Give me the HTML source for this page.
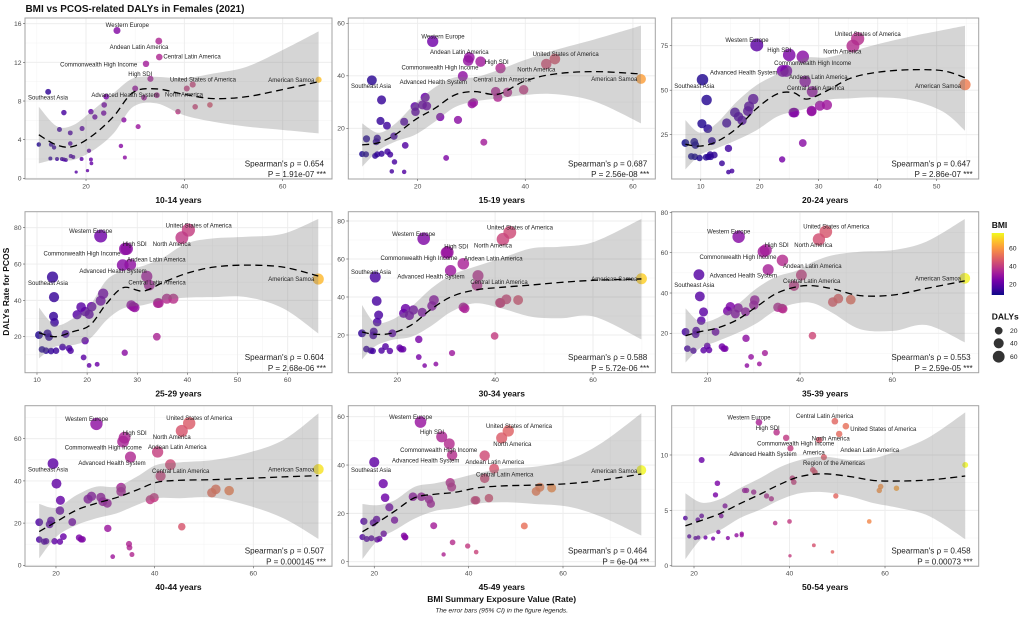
<!DOCTYPE html>
<html lang="en">
<head>
<meta charset="utf-8">
<title>BMI vs PCOS-related DALYs in Females (2021)</title>
<style>
html,body{margin:0;padding:0;background:#fff;}
svg{display:block;font-family:"Liberation Sans",Arial,sans-serif;filter:blur(0.3px);}
</style>
</head>
<body>
<svg id="chart" xmlns="http://www.w3.org/2000/svg" width="1022" height="617" viewBox="0 0 1022 617">
  <rect x="0" y="0" width="1022" height="617" fill="#ffffff"/>
  <text x="25.5" y="12" font-size="9.95" font-weight="bold" fill="#111">BMI vs PCOS-related DALYs in Females (2021)</text>
  <text transform="translate(9,291.7) rotate(-90)" text-anchor="middle" font-size="8.5" font-weight="bold" fill="#111">DALYs Rate for PCOS</text>
  <text x="501.7" y="602" text-anchor="middle" font-size="8.5" font-weight="bold" fill="#111">BMI Summary Exposure Value (Rate)</text>
  <text x="501.7" y="612.5" text-anchor="middle" font-size="6.6" font-style="italic" fill="#222">The error bars (95% CI) in the figure legends.</text>
  <g id="panels"></g>
  <g id="legend">
    <text x="991.7" y="228" font-size="8.5" font-weight="bold" fill="#111">BMI</text>
    <text x="991.7" y="319.7" font-size="8.5" font-weight="bold" fill="#111">DALYs</text>
  </g>
</svg>
<script>
// ---------- Data (BMI = x, DALYs rate = y) ----------
const ageGroups = ["10-14 years","15-19 years","20-24 years","25-29 years","30-34 years","35-39 years","40-44 years","45-49 years","50-54 years"];
const rhoValues = ["0.654","0.687","0.647","0.604","0.588","0.553","0.507","0.464","0.458"];
const pValues = ["1.91e-07","2.56e-08","2.86e-07","2.68e-06","5.72e-06","2.59e-05","0.000145","6e-04","0.00073"];

const bmi_10_14 = [26.3,34.8,34.9,32.2,33.1,41.7,40.5,67.3,30,31.8,34.4,24.1,12.3,23.7,15.5,21,21.8,23.6,27.7,30.6,38.7,42.2,45.2,14.6,19.2,16.8,10.4,12.9,13.5,16.8,20.6,27.1,16.9,17.4,27.9,12.75,14.1,15.1,15.5,15.9,19.1,21,21.1,18,20.3];
const daly_10_14 = [15.3,14.2,12.55,11.85,10.3,9.7,9.3,10.2,9.3,8.35,8.6,8.45,8.95,7.6,6.8,6.9,6.35,6.75,6.05,5.35,6.9,7.4,7.6,5.05,5.15,4.7,3.5,3.5,3.2,3.6,2.85,3.35,2.3,2.2,2.15,2.05,2,2,1.95,1.9,2,1.95,1.55,0.65,0.8];
const fitX_10_14 = [10.4,14,17.4,21.5,25.6,29.6,34.4,39.8,45.9,52.7,60.1,67.3];
const fitY_10_14 = [4.5,3.45,3.3,4.5,6.4,8.9,9.25,8.7,8.25,8.45,9.2,10];
const fitHi_10_14 = [7.4,5.4,5.5,7.1,8.8,10.35,10.5,10.35,10.85,11.55,13.3,15.2];
const fitLo_10_14 = [1.55,1.95,1.9,2.9,4.65,7.4,7.75,6.55,5.85,5.35,5,4.65];

const bmi_15_19 = [22.8,29.6,29.4,31.7,35.4,45.5,43.9,61.5,11.5,28.4,34.5,34.9,36.7,39.7,13.3,21.4,19.5,20.9,21.7,19.6,30.4,30.1,24.2,27.5,13.1,14.3,17.5,15.6,10.5,12.5,12.3,17.7,32.3,9.7,10.4,12.1,12.5,13.3,14.4,14.9,15.7,25.3,15.2,17.5];
const daly_15_19 = [53.1,47,45.8,45.4,42.9,46.4,44.5,38.8,38.3,39.9,34,31.8,33.7,34.7,30.8,31.8,28.3,28.9,28.5,26.3,29.8,29.3,24.3,23.2,22.8,21,22.5,17,16,16.2,14.9,13.5,14.7,10.2,10.1,9.5,10.1,10.3,11.1,10,7.2,8.7,3.6,3.4];
const fitX_15_19 = [9.7,12.7,15.8,19.5,23.2,26.9,30.6,35,39.9,45.5,52.9,61.5];
const fitY_15_19 = [13.7,14.5,17.5,23.2,27.6,32.7,34,33,38,40.7,41.6,40.7];
const fitHi_15_19 = [21.9,18.3,21.7,29.3,35.6,39.4,39.4,42.2,46,49.8,53.9,59.1];
const fitLo_15_19 = [5.4,11.5,14.9,17.5,22.5,28,30.2,31.4,32.7,33,30.2,21.9];

const bmi_20_24 = [19.5,25,27.3,36.6,35.8,23.9,24.5,10.3,27.7,28.9,54.8,11,18.9,18.2,18,15.8,16.4,17,14.4,10.2,11.2,25.7,25.9,28.8,28.8,30.2,31.4,7.4,8.9,9.1,11.9,14.7,27.3,8.4,9,9.8,10.9,11.3,11.6,11.7,12.3,13.6,23.8,14.7,15.3];
const daly_20_24 = [75.4,69.8,68.8,78.9,74.8,60.8,60.8,55.9,55,49.2,53.1,44.5,45,40.9,38.3,37.5,35.1,33,31.6,31.2,28.4,37.4,37.4,38.5,38.1,41.3,41.7,20.3,20.9,19.2,21.4,17.3,20.3,12.8,12.6,11.9,12.3,12.6,13.8,12.6,13.6,8.9,11.1,4,4.6];
const fitX_20_24 = [7.4,9.9,12.7,16.1,19.5,22.9,25.7,28,31.4,35.3,39.8,45.5,51.1,54.8];
const fitY_20_24 = [19.6,18.6,21.1,28.6,39.8,47.8,48.6,45,49.7,56.6,60,61.5,60.9,57];
const fitHi_20_24 = [33.2,26.1,31.4,43.5,52.9,59.1,65.1,68.4,68.4,71.6,75.7,80.1,83.8,86.2];
const fitLo_20_24 = [5.5,13.6,17.3,22,27.6,35.1,37.9,39.8,44.5,45.4,46,44.5,37.9,27.2];

const bmi_25_29 = [22.7,27.6,27.9,40.2,38.9,27.1,28.6,31.9,32.4,13.1,66.1,13.4,23.2,22.7,20.9,18.8,19.6,20.4,18,13.3,13.5,28.8,29.2,29.5,34.1,34.3,35.9,37.2,10.4,12.1,12.4,15.7,19.6,33.9,11,11.8,12.8,13.8,15.1,16.4,16.7,27.5,19.3,20.4,22];
const daly_25_29 = [75.4,68.3,68.4,78.7,74.5,59.4,59.6,53.2,48.4,52.8,51.7,41.8,43.7,39.8,36.5,36.3,33.8,32.3,32.1,31.2,27.9,37.4,36.5,36.1,38.5,38.5,40.9,40.9,20.9,21.8,19.8,21.5,17.8,20,13,12.3,12.1,12.3,14.3,13.6,12.3,11.2,8.6,4.2,4.8];
const fitX_25_29 = [10.4,13.6,17.2,20.6,23.9,27.2,31.2,35.2,39.9,45.2,51.8,59.1,66.1];
const fitY_25_29 = [22.2,20,22.8,26.4,38.3,47,45.1,49.9,54.9,58.3,59.4,58.3,53.4];
const fitHi_25_29 = [36,26.4,30,37.5,51.2,56.2,59,63.6,71.4,74.1,75,76.7,84.8];
const fitLo_25_29 = [8.1,14.5,15.4,19.1,29.2,35.6,37.4,40.2,41.5,41.8,41.8,35.6,21.8];

const bmi_30_34 = [25.4,30.3,30.1,43,41.6,33.5,30.9,36.5,36.3,15.5,69.9,15.8,27.5,27.1,21.7,23.3,21.3,22.5,25.1,16.2,15.9,33.5,33.8,41,41.1,42.3,44.7,12.8,15.2,15.1,19,24.4,39.9,13.7,14.6,15,16.8,17.6,18.5,20.5,20.8,21.2,31.2,24.4,25.6,27.9];
const daly_30_34 = [70.7,63.5,63.3,74,70.4,57.5,53.9,51.2,46.1,50.5,49.6,37.9,38.4,35.3,33.9,33.2,31.4,30.2,31.9,30.5,26.8,34.6,34,37,36.8,38.8,38.4,20.9,21.8,19.8,20.9,17.7,19.5,12.6,11.8,11.6,11.8,13.9,11.6,13.3,12.5,12.5,10.5,8.4,3.9,4.7];
const fitX_30_34 = [12.8,15.4,18.8,22.9,27,31.1,35.9,41.3,47.4,53.5,60.3,69.9];
const fitY_30_34 = [21.6,20.4,20.9,25.3,33.7,40.2,43.7,45.1,46.3,47.7,48.8,49.5];
const fitHi_30_34 = [35.8,26.7,27.9,34.9,44.6,51.6,56,60.4,65.6,66.5,69.1,81.1];
const fitLo_30_34 = [7.2,13.9,17.4,19.1,24.9,32.3,36.7,34,29.6,28.8,29.6,17.7];

const bmi_35_39 = [26.7,32.1,32.6,45.6,44.1,36.2,33.1,40.3,38.7,18.1,75.7,18.3,30.2,30,24.9,26.6,24.3,26,28.2,19.1,18.6,35.2,36.1,36.3,47.1,48.3,51,15.2,17.5,17.4,21.7,28.3,42.7,15.6,16.9,19.1,19.9,20.3,23.1,23.5,23.8,32.4,29.4,28.5,31.2];
const daly_35_39 = [67.9,60.5,61.3,70.4,66.6,56.2,51.6,48.9,43.6,49.1,47.3,38.3,36.5,34,33.2,32.6,31.1,29.6,30.7,30.6,26.3,32.9,32.4,32.1,35.5,37.2,36.7,20.7,21.3,19.5,20.7,17.5,18.8,12.4,11.4,11.6,13.7,11.7,13.4,12.4,12.4,10.2,8.3,4,4.8];
const fitX_35_39 = [15.2,18.3,21.9,26.3,30.6,34.9,39.3,42.9,47.2,53,60.2,67.4,75.7];
const fitY_35_39 = [18.8,20.8,22.5,26.6,33.2,39.8,43.1,43.6,42,38.7,39,42.3,46];
const fitHi_35_39 = [32.4,25.8,27.4,34,42.3,48.1,51.1,55.5,58.8,60.5,61.3,65.5,76.7];
const fitLo_35_39 = [5.5,12.6,15.9,20,25,31.6,34.9,34.9,29.9,22.1,21.2,24.1,15.5];

const bmi_40_44 = [28.2,33.9,33.6,47,45.5,35.1,40.6,43.2,41.2,19.4,73.2,20.1,20.9,20.8,27.2,26.5,29.1,29.5,30.4,33.2,33.2,39.1,39.9,51.6,52.4,55.1,16.6,19,18.7,23.3,30.5,45.5,16.6,17.6,18,19.7,20.8,21.5,24.7,25.1,25.4,34.8,34.9,35.4,31.5];
const daly_40_44 = [67,60.5,58.6,67.3,63.7,51.3,53.7,47.7,42.3,48.2,45.5,38.7,30.8,25.9,32.7,31.4,32.2,30.2,29.4,36.8,34.9,31.1,32.1,34.4,36,35.4,20.4,21.2,19.4,20.5,17.5,18.3,12.2,11.2,11.4,11.4,11.2,13.6,13.1,12.3,12.3,10.1,8.4,5.1,4.1];
const fitX_40_44 = [16.6,20.1,24.2,28.2,32.3,36.4,40.4,45.1,51.9,58.6,66.1,73.2];
const fitY_40_44 = [16,20.7,26.2,29.4,32.1,35.7,39.3,40.3,40.6,41.2,41.9,42.5];
const fitHi_40_44 = [29.1,27.3,33.3,37.3,37.3,42,47.6,48.8,49.9,53.1,59.4,72];
const fitLo_40_44 = [3.3,13.6,19.1,22.3,24.6,28.6,31.8,31.8,32.1,28.6,22.3,12.5];

const bmi_45_49 = [29.8,34.3,35.9,36.5,48.4,47,43.4,45.4,43.4,20,76.6,21.9,22.3,36.1,36.4,28.2,30,31.6,32,23.2,24.3,20.5,19.8,17.8,41.3,41.6,44.3,54.3,55.1,57.6,32.6,51.8,17.5,18.4,19.4,20.6,21.1,22,26.3,26.5,26.6,36.6,39.8,41.6,34.7];
const daly_45_49 = [57.8,51.7,48.8,44.1,54.1,51.2,43.9,38.5,34.5,41.2,37.9,32.3,26.5,32.7,30.9,26.9,26.9,25.8,24,22.5,17.2,17.5,16.1,16.7,25.4,25.4,26.3,29.1,30.8,30.5,14.9,14.8,10.2,9.4,9.7,9.1,9.5,11.6,10.8,10.1,10.1,8,6.5,4,3];
const fitX_45_49 = [17.5,20.8,24.4,28.6,32.8,37.1,42,47.7,54,61.1,68.1,76.6];
const fitY_45_49 = [12.4,16.3,21,26.5,27.9,28.7,30.6,31.4,31.7,32.3,33.7,36.3];
const fitHi_45_49 = [23.9,23.4,25.5,31,32.4,34.2,36.6,38.6,39.3,42.1,49,61.4];
const fitLo_45_49 = [1.1,9,13.1,17.9,21,22.1,24.1,24.6,23.9,22.8,18.6,10.8];

const bmi_50_54 = [33.6,37.3,39.3,40.2,49.5,51.8,50.4,46.2,47.2,44.9,45.3,21.6,76.8,24.9,24.5,40.6,40.9,30.6,31,32.5,35.2,36.2,49.7,58.8,59.1,62.4,26.5,25.7,18.2,21.6,20.8,37,40,56.7,25.1,19,20.3,20.9,22.4,24,27.1,28.9,30,30,45.1,49,40.1];
const daly_50_54 = [12.95,12.05,11.55,10.6,13.05,12.6,11.9,11.35,9.8,8.65,8.45,9.55,9.1,7.45,6.4,7.9,7.55,6.8,6.8,6.65,6.3,6.05,6.3,6.8,7.15,7,5.4,4.5,4.3,4.5,4.15,3.85,4,4,3.05,2.65,2.5,2.55,2.55,2.45,2.5,2.75,2.75,2.9,1.85,1.25,0.9];
const fitX_50_54 = [18.2,21.6,25.4,29.6,33.8,38,42.2,47.1,52.7,57.6,63.1,69.4,76.8];
const fitY_50_54 = [3.6,4.1,4.7,5.6,6.45,7.35,8.05,8.3,8.05,7.7,7.65,7.75,8.1];
const fitHi_50_54 = [6.55,5.7,6,7,7.9,8.9,9.55,9.85,9.55,9.7,10.45,11.65,13.85];
const fitLo_50_54 = [0.6,2.45,3.2,4.3,5.05,5.95,6.55,6.65,6.25,5.65,5.2,4.45,2.4];

const xTicks = [[20,40,60],[20,40,60],[10,20,30,40,50],[10,20,30,40,50,60],[20,40,60],[20,40,60],[20,40,60],[20,40,60],[20,40,60]];
const yTicks = [[0,4,8,12,16],[20,40,60],[25,50,75],[20,40,60,80],[20,40,60,80],[20,40,60,80],[0,20,40,60],[0,20,40,60],[0,5,10]];
const bmiLegendTicks = [20,40,60];
const dalyLegendValues = [20,40,60];

const seriesBmi = [bmi_10_14,bmi_15_19,bmi_20_24,bmi_25_29,bmi_30_34,bmi_35_39,bmi_40_44,bmi_45_49,bmi_50_54];
const seriesDaly = [daly_10_14,daly_15_19,daly_20_24,daly_25_29,daly_30_34,daly_35_39,daly_40_44,daly_45_49,daly_50_54];
const seriesFitX = [fitX_10_14,fitX_15_19,fitX_20_24,fitX_25_29,fitX_30_34,fitX_35_39,fitX_40_44,fitX_45_49,fitX_50_54];
const seriesFitY = [fitY_10_14,fitY_15_19,fitY_20_24,fitY_25_29,fitY_30_34,fitY_35_39,fitY_40_44,fitY_45_49,fitY_50_54];
const seriesFitHi = [fitHi_10_14,fitHi_15_19,fitHi_20_24,fitHi_25_29,fitHi_30_34,fitHi_35_39,fitHi_40_44,fitHi_45_49,fitHi_50_54];
const seriesFitLo = [fitLo_10_14,fitLo_15_19,fitLo_20_24,fitLo_25_29,fitLo_30_34,fitLo_35_39,fitLo_40_44,fitLo_45_49,fitLo_50_54];

// ---------- Layout (page geometry, axis limits, repelled label placement) ----------
const panelLeft = [25,348.3,671.7];
const panelWidth = 307;
const rowTop = [18,211.7,405.7];
const rowBottom = [179,372.7,566.3];
const stripBaseline = [203,396.3,590];
const xLimits = [[7.59,70.03],[7.12,64.16],[5.08,57.12],[7.61,68.84],[10,72.73],[12.2,78.72],[13.72,75.95],[14.5,79.56],[15.33,79.62]];
const yLimits = [[-0.07,16.59],[0.69,62.02],[0.11,90.56],[0.19,88.8],[0.16,84.89],[0.45,80.35],[-0.47,75.64],[-1.9,64.55],[-0.05,14.45]];
const labelLayout = [
 [["Western Europe",127.3,24.7],["Andean Latin America",139,46.7],["Central Latin America",192,56.3],["Commonwealth High Income",98.7,64.3],["High SDI",140.3,74],["United States of America",203,79.3],["American Samoa",291.3,80],["Advanced Health System",125,94.7],["North America",184,94.3],["Southeast Asia",48,97.3]],
 [["Western Europe",443,36.3],["Andean Latin America",459.3,52],["High SDI",496.7,61.7],["United States of America",565.7,53.7],["Commonwealth High Income",440,67.3],["North America",536.3,69.3],["Advanced Health System",433.3,82],["Central Latin America",502,79.3],["American Samoa",614.3,79],["Southeast Asia",371,86]],
 [["Western Europe",747,40],["High SDI",779.3,49.7],["United States of America",867.7,33.7],["North America",842.3,51.3],["Commonwealth High Income",812.7,62.7],["Advanced Health System",743.7,72.3],["Andean Latin America",818.3,77],["Central Latin America",815.7,87.7],["Southeast Asia",694.3,86],["American Samoa",938,85.7]],
 [["United States of America",198.7,225.3],["Western Europe",90.7,230.7],["High SDI",134.7,243.7],["North America",171.7,243.7],["Commonwealth High Income",82,253.3],["Andean Latin America",156.3,259.3],["Advanced Health System",113,270.7],["Southeast Asia",48,282.7],["Central Latin America",157,282.3],["American Samoa",291.3,279]],
 [["United States of America",520,227.3],["Western Europe",413.7,233.7],["High SDI",456.3,246.3],["North America",493,245.3],["Commonwealth High Income",419,257.7],["Andean Latin America",493.3,258.3],["Southeast Asia",371,272],["Advanced Health System",431,276.3],["Central Latin America",499,281.7],["American Samoa",614.3,278.7]],
 [["United States of America",836.3,226.3],["Western Europe",728.7,231.3],["High SDI",776.7,244.7],["North America",813.3,245],["Commonwealth High Income",738,257],["Andean Latin America",812.3,265.7],["Advanced Health System",743.3,275.3],["Central Latin America",811.7,280.7],["Southeast Asia",694.3,285],["American Samoa",938,278.3]],
 [["United States of America",199.3,418],["Western Europe",86.7,418.7],["High SDI",134.7,432.7],["North America",171.7,436.7],["Commonwealth High Income",103.3,447.3],["Andean Latin America",177.3,446.7],["Advanced Health System",112,462.7],["Southeast Asia",48,469.3],["Central Latin America",180.7,470.7],["American Samoa",291.3,469.3]],
 [["Western Europe",410.7,417],["United States of America",519,426],["High SDI",432,431.7],["North America",512.3,444],["Commonwealth High Income",438.7,449.7],["Advanced Health System",425.7,460.3],["Andean Latin America",494.7,461.7],["Southeast Asia",371,470],["Central Latin America",504.7,474.3],["American Samoa",614.3,471]],
 [["Central Latin America",824.7,416],["Western Europe",749,417.3],["High SDI",767.7,427.7],["United States of America",883.3,428.7],["North America",830.7,438.3],["Commonwealth High Income",795.7,443.3],["Andean Latin America",869.7,449.7],["Advanced Health System",763,454],["America",813.7,452.3],["Region of the Americas",834,463]]
];

const NS = "http://www.w3.org/2000/svg";
const plasma = ["#0d0887","#46039f","#7201a8","#9c179e","#bd3786","#d8576b","#ed7953","#fb9f3a","#fdca26","#f0f921"];
const bmiMin = 7.7, bmiMax = 77;

function hexToRgb(h){return [parseInt(h.slice(1,3),16),parseInt(h.slice(3,5),16),parseInt(h.slice(5,7),16)];}
function bmiColor(v){
  const t = Math.max(0,Math.min(1,(v-bmiMin)/(bmiMax-bmiMin)))*(plasma.length-1);
  const i = Math.min(plasma.length-2,Math.floor(t));
  const a = hexToRgb(plasma[i]), b = hexToRgb(plasma[i+1]), f = t-i;
  return "rgb("+a.map((c,k)=>Math.round(c+(b[k]-c)*f)).join(",")+")";
}
function sizeScale(d){return 1.1+0.62*Math.sqrt(Math.max(0,d));}
function splinePath(pts,move){
  let s = (move?"M":"L")+pts[0][0].toFixed(2)+" "+pts[0][1].toFixed(2);
  for(let i=0;i<pts.length-1;i++){
    const p0=pts[Math.max(0,i-1)],p1=pts[i],p2=pts[i+1],p3=pts[Math.min(pts.length-1,i+2)];
    const c1x=p1[0]+(p2[0]-p0[0])/6,c1y=p1[1]+(p2[1]-p0[1])/6,c2x=p2[0]-(p3[0]-p1[0])/6,c2y=p2[1]-(p3[1]-p1[1])/6;
    s+="C"+c1x.toFixed(2)+" "+c1y.toFixed(2)+" "+c2x.toFixed(2)+" "+c2y.toFixed(2)+" "+p2[0].toFixed(2)+" "+p2[1].toFixed(2);
  }
  return s;
}
function mk(tag,attrs,parent){
  const el = document.createElementNS(NS,tag);
  for(const k in attrs){el.setAttribute(k,attrs[k]);}
  parent.appendChild(el);
  return el;
}
const panelsRoot = document.getElementById("panels");

ageGroups.forEach(function(age,p){
  const col = p%3, row = Math.floor(p/3);
  const L = panelLeft[col], R = L+panelWidth, T = rowTop[row], B = rowBottom[row];
  const xs = v => L+(v-xLimits[p][0])/(xLimits[p][1]-xLimits[p][0])*(R-L);
  const ys = v => B-(v-yLimits[p][0])/(yLimits[p][1]-yLimits[p][0])*(B-T);

  const g = mk("g",{},panelsRoot);
  
  

  const bg = mk("rect",{x:L,y:T,width:R-L,height:B-T,fill:"#fff"},g);
  
  

  // grid lines: minor at tick midpoints, major at ticks
  const xt = xTicks[p], yt = yTicks[p];
  const xStep = xt[1]-xt[0], yStep = yt[1]-yt[0];
  for(let v=xt[0]-xStep/2;v<xLimits[p][1];v+=xStep){
    if(v<=xLimits[p][0]) continue;
    const m = mk("line",{x1:xs(v),x2:xs(v),y1:T,y2:B,stroke:"#f3f3f3","stroke-width":0.5},g);
    
    
  }
  for(let v=yt[0]-yStep/2;v<yLimits[p][1];v+=yStep){
    if(v<=yLimits[p][0]) continue;
    const m = mk("line",{x1:L,x2:R,y1:ys(v),y2:ys(v),stroke:"#f3f3f3","stroke-width":0.5},g);
    
    
  }
  xt.forEach(function(v){
    const m = mk("line",{x1:xs(v),x2:xs(v),y1:T,y2:B,stroke:"#ececec","stroke-width":0.9},g);
    
    
  });
  yt.forEach(function(v){
    const m = mk("line",{x1:L,x2:R,y1:ys(v),y2:ys(v),stroke:"#ececec","stroke-width":0.9},g);
    
    
  });

  // points
  const xv = seriesBmi[p], yv = seriesDaly[p];
  xv.forEach(function(x,i){
    const c = mk("circle",{cx:xs(x).toFixed(2),cy:ys(yv[i]).toFixed(2),r:sizeScale(yv[i]).toFixed(2),fill:bmiColor(x),"fill-opacity":0.82},g);
    
    
  });

  // confidence ribbon + fit line
  const fx = seriesFitX[p];
  const hi = fx.map((x,i)=>[xs(x),ys(seriesFitHi[p][i])]);
  const lo = fx.map((x,i)=>[xs(x),ys(seriesFitLo[p][i])]).reverse();
  const rib = mk("path",{d:splinePath(hi,true)+splinePath(lo,false)+"Z",fill:"#777777","fill-opacity":0.31},g);
  
  
  const fit = mk("path",{d:splinePath(fx.map((x,i)=>[xs(x),ys(seriesFitY[p][i])]),true),fill:"none",stroke:"#000","stroke-width":1.3,"stroke-dasharray":"7 4.5"},g);
  
  

  // region labels
  labelLayout[p].forEach(function(lab){
    const t = mk("text",{x:lab[1],y:lab[2]+2.1,"text-anchor":"middle","font-size":6,fill:"#222"},g);
    
    
    t.textContent = lab[0];
  });

  // border
  const border = mk("rect",{x:L,y:T,width:R-L,height:B-T,fill:"none",stroke:"#a3a3a3","stroke-width":1},g);
  
  

  // ticks
  xt.forEach(function(v){
    const tk = mk("line",{x1:xs(v),x2:xs(v),y1:B,y2:B+2,stroke:"#555","stroke-width":0.6},g);
    
    
    const t = mk("text",{x:xs(v),y:B+9.3,"text-anchor":"middle","font-size":6.8,fill:"#4d4d4d"},g);
    
    
    t.textContent = v;
  });
  yt.forEach(function(v){
    const tk = mk("line",{x1:L-2,x2:L,y1:ys(v),y2:ys(v),stroke:"#555","stroke-width":0.6},g);
    
    
    const t = mk("text",{x:L-3.5,y:ys(v)+2.4,"text-anchor":"end","font-size":6.8,fill:"#4d4d4d"},g);
    
    
    t.textContent = v;
  });

  // statistics
  const s1 = mk("text",{x:R-8,y:B-12.6,"text-anchor":"end","font-size":8.1,fill:"#222"},g);
  
  
  s1.textContent = "Spearman's \u03C1 = "+rhoValues[p];
  const s2 = mk("text",{x:R-6,y:B-1.9,"text-anchor":"end","font-size":8.1,fill:"#222"},g);
  
  
  s2.textContent = "P = "+pValues[p]+" ***";

  // strip label below panel
  const st = mk("text",{x:(L+R)/2,y:stripBaseline[row],"text-anchor":"middle","font-size":8.5,"font-weight":"bold",fill:"#111"},g);
  
  
  st.textContent = age;
});

// ---------- Legends ----------
const legendRoot = document.getElementById("legend");
const barX = 991.7, barW = 12.3, barTop = 233, barBottom = 295;
const bmiToY = v => barBottom-(v-bmiMin)/(bmiMax-bmiMin)*(barBottom-barTop);
const defs = mk("defs",{},legendRoot);
const grad = mk("linearGradient",{id:"bmi-gradient",x1:0,y1:1,x2:0,y2:0},defs);
plasma.forEach(function(c,i){
  mk("stop",{offset:(i/(plasma.length-1)*100)+"%","stop-color":c},grad);
});
const bar = mk("rect",{x:barX,y:barTop,width:barW,height:barBottom-barTop,fill:"url(#bmi-gradient)"},legendRoot);


bmiLegendTicks.forEach(function(v){
  const t = mk("text",{x:1009,y:bmiToY(v)+2.4,"font-size":6.8,fill:"#222"},legendRoot);
  
  
  t.textContent = v;
});
const dalyRowY = [330.7,343.3,356.7];
dalyLegendValues.forEach(function(v,i){
  const c = mk("circle",{cx:998.7,cy:dalyRowY[i],r:sizeScale(v).toFixed(2),fill:"#333"},legendRoot);
  
  
  const t = mk("text",{x:1010,y:dalyRowY[i]+2.4,"font-size":6.8,fill:"#222"},legendRoot);
  
  
  t.textContent = v;
});
</script>
</body>
</html>
